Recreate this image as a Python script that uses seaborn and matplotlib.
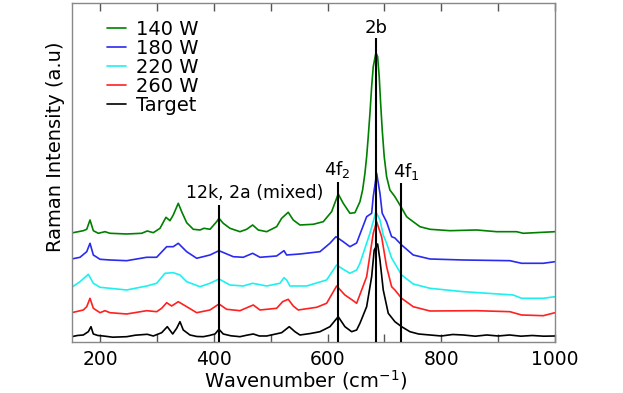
import numpy as np
import pandas as pd
import matplotlib
matplotlib.use("Agg")
import matplotlib.pyplot as plt
import seaborn as sns

# spectra (wavenumber in cm^-1, intensity offset in a.u.)
w_140 = [150, 170.4, 176.4, 182.2, 188, 196.8, 208.5, 217.3, 246.7, 273.1, 282.9, 293.5,
         305.3, 315.8, 322.8, 328.6, 337.4, 343.4, 352.2, 363.8, 375.6, 382.6, 393.2, 404.9,
         409, 416.5, 428.3, 445.9, 457.7, 468.2, 478.1, 492.9, 510.4, 519.2, 530.8, 539.6,
         551.4, 574.8, 592.4, 607.1, 618.7, 627.5, 639.3, 648.1, 656.9, 661.6, 665.7, 668.7,
         671.5, 674.5, 677.5, 680.3, 685, 688, 690.8, 693.3, 696.1, 699.6, 703.8, 709.6,
         718.4, 727.2, 739, 744.8, 762.4, 780, 815.2, 862.1, 897.3, 932.4, 944, 979.2, 1000]
i_140 = [109, 111.3, 112.7, 122, 111.3, 108.7, 110.3, 108.7, 108, 108.7, 111, 109.3,
         113.7, 124.7, 121.3, 127, 138.7, 130.3, 119.3, 112.7, 112, 113.7, 112.7, 120.3,
         123.7, 118.7, 113.7, 110.3, 112.7, 117, 112, 110.3, 115.3, 123.7, 129.7, 122,
         117, 117.7, 120.3, 130.3, 148, 138.7, 128.7, 129.3, 140.3, 152, 168.7, 185.3,
         205.3, 228.7, 255.3, 275.3, 289.3, 285.3, 265.3, 238.7, 212, 185.3, 165.3, 152,
         145.3, 137, 125.3, 122.7, 115.3, 112.7, 111.3, 112, 110.3, 110.3, 108.7, 109.7, 110.3]

w_180 = [150, 164.6, 176.4, 182.2, 188, 199.8, 217.3, 246.7, 281.9, 299.4, 317, 328.6,
         337.4, 352.2, 369.8, 393.2, 409, 434.1, 451.7, 468.2, 481.1, 510.4, 523.3, 528,
         551.4, 586.6, 604.1, 614.7, 627.5, 639.3, 651.1, 668.7, 677.5, 680.3, 686.3, 692.1,
         696.1, 703.8, 712.6, 718.4, 730.2, 750.6, 780, 838.5, 920.6, 941.2, 979.2, 1000]
i_180 = [83, 84.7, 90.3, 98.7, 87, 82.7, 82, 81.3, 84.7, 84.7, 95.3, 95.3,
         98.7, 90.3, 83.7, 87, 91.3, 85.3, 84.7, 88.7, 84.7, 86, 91.3, 87,
         88, 90.3, 98.7, 105.3, 100.3, 95.3, 99, 125.3, 128.7, 145.3, 168.7, 148.7,
         128.7, 120, 105.3, 104, 97, 87, 83, 82, 81.3, 78.7, 78.7, 80.3]

w_220 = [150, 164.6, 179.2, 188, 199.8, 217.3, 246.7, 281.9, 299.4, 314, 328.6, 340.4,
         352.2, 375.6, 393.2, 409, 428.3, 451.7, 468.2, 492.9, 516.2, 523.3, 528, 533.8,
         563.2, 598.3, 615.9, 624.7, 639.3, 651.1, 656.9, 674.5, 685, 692.1, 697.9, 703.8,
         712.6, 730.2, 750.6, 780, 838.5, 926.5, 941.2, 979.2, 1000]
i_220 = [54.7, 60.3, 67.7, 58.7, 54.7, 53.7, 52, 56, 58.7, 68.7, 69.3, 67,
         60.3, 55.3, 58.7, 63, 57, 56, 58.7, 56, 58.7, 64.3, 62, 56,
         56, 62, 77, 73.7, 68.7, 72, 78.7, 108.7, 130.3, 122, 107, 98.7,
         84, 67, 58, 53.7, 50.3, 47, 43.7, 43.7, 45.3]

w_260 = [150, 170.4, 176.4, 182.2, 188, 199.8, 208.5, 217.3, 246.7, 281.9, 299.4, 308.2,
         317, 325.8, 337.4, 352.2, 369.8, 393.2, 409, 422.5, 445.9, 469.3, 481.1, 510.4,
         520.9, 530.8, 539.6, 548.4, 580.8, 598.3, 615.9, 630.5, 645.1, 651.1, 668.7, 680.3,
         686.3, 695, 703.8, 712.6, 718.4, 730.2, 750.6, 780, 862.1, 920.6, 941.2, 979.2, 1000]
i_260 = [29.3, 32, 35.3, 43.7, 33.7, 29.3, 31.3, 29.3, 28, 31.3, 30.3, 33.7,
         39.3, 36, 40.3, 35.3, 29.3, 32, 38, 32.7, 31.3, 37, 32, 33.7,
         40.3, 42.7, 36, 32, 34.7, 38.7, 56, 47, 41.3, 38.7, 65.3, 108.7,
         120.3, 105.3, 75.3, 55.3, 52, 43.7, 35.3, 31, 31.3, 30.3, 27, 26.3, 29.3]

w_target = [150, 160, 170.4, 179.2, 183.9, 188, 196, 205.6, 222, 246.7, 262, 282.9, 293.5,
            308.2, 318.1, 327.6, 334.6, 340.4, 346.2, 358, 370, 381.4, 392, 402, 409, 416.5,
            430, 445.9, 458, 469.3, 480, 492.9, 505, 519.2, 532.6, 542.6, 551.4, 570, 586.6,
            604.1, 618.7, 630.5, 642.3, 651.1, 656.9, 668.7, 677.5, 682, 688, 692.1, 697.9,
            706.7, 718.4, 730.2, 744.8, 760, 780, 800, 820, 838.5, 860, 880, 900, 920, 940,
            960, 980, 1000]
i_target = [5.3, 6.5, 7, 10.3, 15.3, 8, 6.5, 6, 4.8, 5.3, 6.8, 7.7, 6,
            9.3, 15.3, 8, 13.7, 20.3, 12, 7, 5.5, 5.3, 6.5, 8, 12.7, 8,
            6.2, 5.3, 6.8, 8, 6, 6, 7.5, 9.3, 15.3, 10.3, 7, 8.5, 10.3,
            15.3, 25.3, 15.3, 10.3, 12, 18.7, 35.3, 65.3, 92, 98, 82, 52,
            28.7, 20.3, 15.3, 10.3, 8, 7, 6, 7.5, 7, 5.8, 7, 6, 7, 5.8,
            6.5, 5.8, 6]

series_labels = ["140 W", "180 W", "220 W", "260 W", "Target"]
series_colors = ["#008000", "#2a2af0", "#1ef0f0", "#ff2020", "#000000"]

# assigned modes
mode_pos = [409, 618, 686, 729]
mode_top = [137, 160, 304, 159]

frames = []
for lab, w, i in zip(series_labels,
                     [w_140, w_180, w_220, w_260, w_target],
                     [i_140, i_180, i_220, i_260, i_target]):
    frames.append(pd.DataFrame({"wavenumber": w, "intensity": i, "sample": lab}))
df = pd.concat(frames, ignore_index=True)

sns.set_style("ticks")
plt.rcParams["font.family"] = ["DejaVu Sans"]
plt.rcParams["text.color"] = "black"
plt.rcParams["axes.labelcolor"] = "black"

fig = plt.figure(figsize=(6.23, 3.93), dpi=100)
ax = fig.add_axes([0.1151, 0.1298, 0.7758, 0.8626])

sns.lineplot(data=df, x="wavenumber", y="intensity", hue="sample",
             hue_order=series_labels, palette=series_colors, sort=False,
             estimator=None, linewidth=1.2, ax=ax)

ax.vlines(mode_pos, 0, mode_top, color="black", linewidth=1.5, zorder=5)
ax.text(471, 149, "12k, 2a (mixed)", ha="center", va="center", fontsize=12.5)
ax.text(618, 162, "4f$_2$", ha="center", va="bottom", fontsize=13)
ax.text(686, 305, "2b", ha="center", va="bottom", fontsize=13)
ax.text(738, 160, "4f$_1$", ha="center", va="bottom", fontsize=13)

ax.set_xlim(150, 1000)
ax.set_ylim(0, 339)
ax.set_xticks([200, 400, 600, 800, 1000])
ax.set_xticks([300, 500, 700, 900], minor=True)
ax.set_yticks([])
ax.tick_params(axis="x", which="both", direction="in", top=True, length=6,
               width=1, colors="#555555", labelcolor="black", labelsize=13.5, pad=6)
for s in ax.spines.values():
    s.set_color("#888888")
    s.set_linewidth(1)

ax.set_xlabel("Wavenumber (cm$^{-1}$)", fontsize=14)
ax.xaxis.set_label_coords(0.483, -0.078)
ax.set_ylabel("Raman Intensity (a.u)", fontsize=14)
ax.yaxis.set_label_coords(-0.014, 0.577)

leg = ax.legend(loc="upper left", frameon=False, fontsize=14, labelspacing=0.0,
                handlelength=1.0, handletextpad=0.5, borderaxespad=0.0,
                bbox_to_anchor=(0.057, 0.972))
for h in leg.get_lines():
    h.set_linewidth(1.2)

fig.savefig("out.png", dpi=100)
